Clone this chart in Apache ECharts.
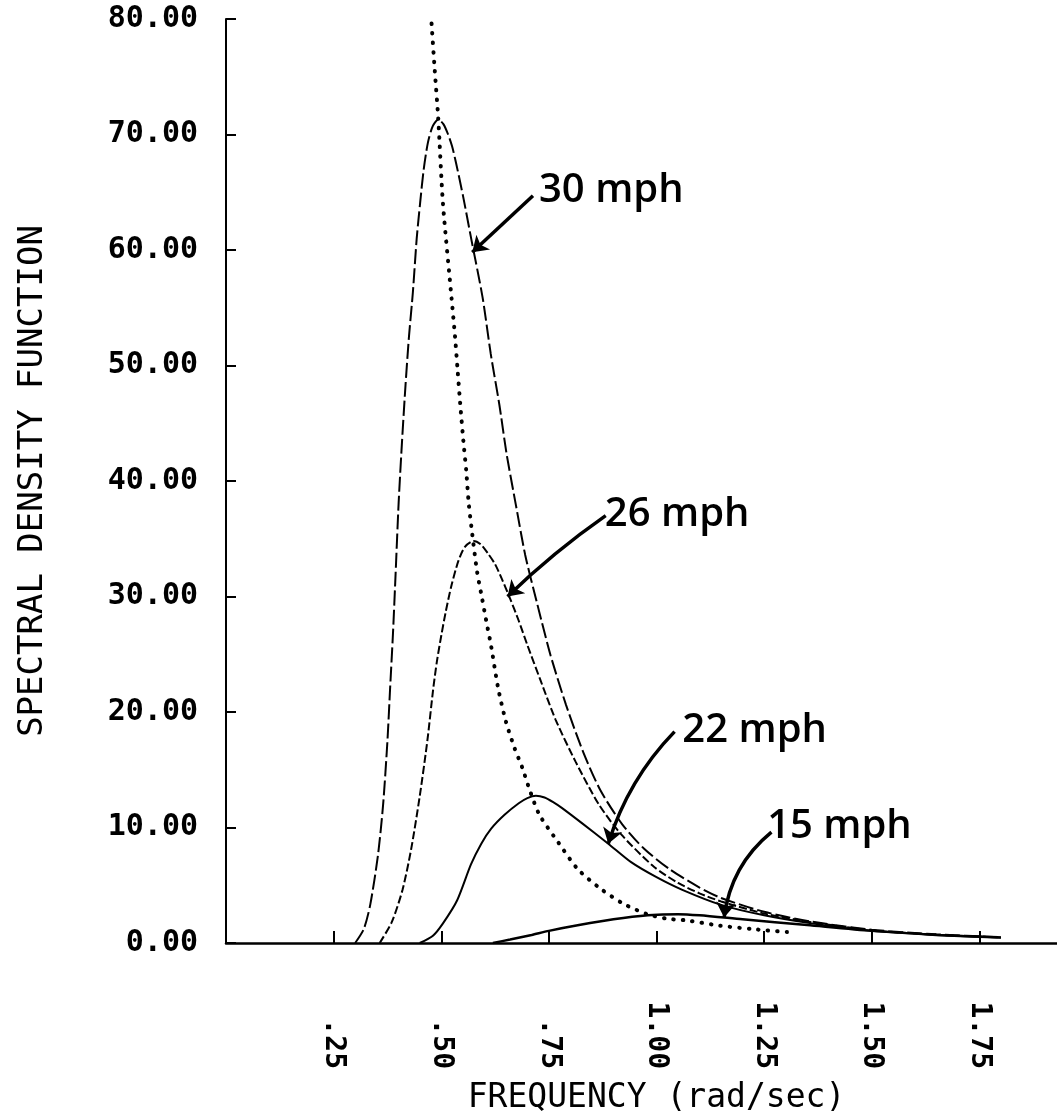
<!DOCTYPE html>
<html>
<head>
<meta charset="utf-8">
<script src="https://cdn.jsdelivr.net/npm/echarts/dist/echarts.min.js"></script>
<style>
html,body{margin:0;padding:0;background:#ffffff;}
#chart{width:1057px;height:1112px;}
</style>
</head>
<body>
<div id="chart"></div>
<script>
// ---- tick labels ----
const xTickValues = [0.25, 0.5, 0.75, 1.0, 1.25, 1.5, 1.75];
const xTickLabels = ['.25', '.50', '.75', '1.00', '1.25', '1.50', '1.75'];
const yTickValues = [0, 10, 20, 30, 40, 50, 60, 70, 80];
const yTickLabels = ['0.00', '10.00', '20.00', '30.00', '40.00', '50.00', '60.00', '70.00', '80.00'];

// ---- series values: [frequency (rad/sec), spectral density] ----
const mph30 = [[0.30,0],[0.32,1.2],[0.335,3.3],[0.353,7.6],[0.365,12.0],[0.375,17.5],[0.381,21.9],[0.388,26.9],[0.394,32.0],[0.401,38.1],[0.409,43.5],[0.417,48.3],[0.425,52.5],[0.434,56.3],[0.443,61.0],[0.451,64.1],[0.459,66.9],[0.469,69.3],[0.48,70.7],[0.493,71.3],[0.505,70.9],[0.516,70.0],[0.525,69.0],[0.534,67.6],[0.551,64.6],[0.570,60.9],[0.596,55.9],[0.615,51.0],[0.635,46.6],[0.652,42.3],[0.673,38.0],[0.695,33.6],[0.722,29.5],[0.754,24.9],[0.79,20.6],[0.83,16.5],[0.87,13.2],[0.92,10.3],[0.97,8.2],[1.03,6.4],[1.10,4.8],[1.15,3.9],[1.25,2.7],[1.36,1.85],[1.50,1.15],[1.65,0.75],[1.80,0.5]];
const mph26 = [[0.357,0],[0.385,1.8],[0.41,4.6],[0.43,8.1],[0.45,12.7],[0.468,17.6],[0.481,21.9],[0.49,24.4],[0.50,26.6],[0.51,28.6],[0.524,31.0],[0.54,33.1],[0.555,34.3],[0.575,34.8],[0.592,34.5],[0.609,33.7],[0.625,32.8],[0.641,31.5],[0.659,29.9],[0.68,27.9],[0.70,25.8],[0.73,22.8],[0.766,19.3],[0.812,15.7],[0.866,12.0],[0.918,9.4],[0.994,6.6],[1.05,5.2],[1.10,4.3],[1.15,3.6],[1.25,2.55],[1.36,1.8],[1.50,1.1],[1.65,0.72],[1.80,0.48]];
const mph22 = [[0.45,0],[0.48,0.6],[0.504,1.7],[0.537,3.7],[0.569,6.8],[0.593,8.6],[0.616,9.9],[0.647,11.1],[0.68,12.1],[0.70,12.55],[0.72,12.75],[0.74,12.6],[0.76,12.2],[0.78,11.7],[0.826,10.4],[0.888,8.6],[0.941,7.0],[1.00,5.7],[1.06,4.6],[1.15,3.3],[1.25,2.4],[1.36,1.7],[1.50,1.05],[1.65,0.7],[1.80,0.47]];
const mph15 = [[0.62,0],[0.66,0.3],[0.71,0.7],[0.75,1.05],[0.82,1.55],[0.90,2.05],[0.98,2.4],[1.05,2.5],[1.10,2.4],[1.20,2.05],[1.35,1.55],[1.50,1.05],[1.65,0.7],[1.80,0.47]];
const dottedCurve = [[0.4775,79.6],[0.485,75.5],[0.493,71.4],[0.504,64.0],[0.524,55.8],[0.532,52.5],[0.538,49.6],[0.544,46.7],[0.552,43.2],[0.558,40.9],[0.564,38.0],[0.572,35.4],[0.583,32.2],[0.594,30.0],[0.607,27.4],[0.615,25.9],[0.632,22.1],[0.650,19.2],[0.670,16.9],[0.688,15.2],[0.704,13.4],[0.728,11.1],[0.772,8.7],[0.817,6.4],[0.87,4.7],[0.923,3.4],[0.978,2.5],[1.025,2.1],[1.071,1.95],[1.147,1.5],[1.224,1.2],[1.303,0.95]];

// ---- hand-written annotations (data coordinates) ----
const annotationText = ['30 mph', '26 mph', '22 mph', '15 mph'];
const annotationAt = [[0.895,65.1],[1.048,37.1],[1.228,18.4],[1.425,10.1]];
const arrowFrom = [[0.713,64.7],[0.882,37.0],[1.042,18.3],[1.267,9.6]];
const arrowTo = [[0.572,59.8],[0.654,30.0],[0.888,8.6],[1.157,2.2]];
const arrowBend = [0, -0.04, -0.12, -0.2];

const chart = echarts.init(document.getElementById('chart'), null, {renderer: 'canvas'});

const ink = '#000000';
const plotFont = 'DejaVu Sans Mono';

function curve(name, data, lineType, width) {
  return {
    name: name, type: 'line', data: data, showSymbol: false, symbol: 'none',
    smooth: 0.25, clip: true, silent: true,
    lineStyle: {color: ink, width: width, type: lineType}
  };
}

const series = [
  {
    name: 'reference', type: 'line', data: dottedCurve, showSymbol: false, symbol: 'none',
    smooth: 0.25, clip: true, silent: true,
    lineStyle: {color: ink, width: 4, type: [0.5, 9], cap: 'round'}
  },
  curve('30 mph', mph30, [15, 4], 2),
  curve('26 mph', mph26, [8, 3], 2),
  curve('22 mph', mph22, 'solid', 2),
  curve('15 mph', mph15, 'solid', 2.5)
];

arrowFrom.forEach(function (p, i) {
  series.push({
    type: 'lines', coordinateSystem: 'cartesian2d', silent: true, z: 5,
    symbol: ['none', 'arrow'], symbolSize: 15,
    lineStyle: {color: ink, width: 3.5, curveness: arrowBend[i], opacity: 1},
    data: [{coords: [p, arrowTo[i]]}]
  });
});

series.push({
  type: 'scatter', silent: true, z: 6,
  symbol: 'circle', symbolSize: 2, itemStyle: {color: 'rgba(0,0,0,0)', opacity: 1},
  data: annotationAt.map(function (p, i) { return {value: p, name: annotationText[i]}; }),
  label: {
    show: true, position: [1, 1], align: 'center', verticalAlign: 'middle',
    formatter: function (d) { return '{h|' + d.name + '}'; },
    rich: {h: {color: '#000000', fontFamily: 'Open Sans', fontSize: 40, fontWeight: 600}}
  },
  labelLayout: {hideOverlap: false}
});

chart.setOption({
  animation: false,
  backgroundColor: '#ffffff',
  grid: {left: 226, top: 19, bottom: 169, right: -30, containLabel: false, outerBoundsMode: 'none'},
  xAxis: {
    type: 'value', min: 0, max: 2, interval: 0.25,
    name: 'FREQUENCY (rad/sec)', nameLocation: 'middle', nameGap: 139,
    nameTextStyle: {color: ink, fontFamily: plotFont, fontSize: 33},
    axisLine: {show: true, onZero: false, lineStyle: {color: ink, width: 2.5}},
    axisTick: {show: true, inside: true, length: 12, lineStyle: {color: ink, width: 2}},
    splitLine: {show: false},
    axisLabel: {
      show: true, rotate: -90, margin: 126, align: 'right', verticalAlign: 'middle',
      color: ink, fontFamily: plotFont, fontSize: 28, fontWeight: 'bold',
      showMinLabel: true, showMaxLabel: true, hideOverlap: false,
      formatter: function (v) {
        const i = xTickValues.findIndex(function (t) { return Math.abs(t - v) < 1e-6; });
        return i >= 0 ? xTickLabels[i] : '';
      }
    }
  },
  yAxis: {
    type: 'value', min: 0, max: 80, interval: 10,
    name: 'SPECTRAL DENSITY FUNCTION', nameLocation: 'middle', nameGap: 176, nameRotate: 90,
    nameTextStyle: {color: ink, fontFamily: plotFont, fontSize: 34},
    axisLine: {show: true, onZero: false, lineStyle: {color: ink, width: 2}},
    axisTick: {show: true, inside: true, length: 10, lineStyle: {color: ink, width: 2}},
    splitLine: {show: false},
    axisLabel: {
      show: true, margin: 28, color: ink, fontFamily: plotFont, fontSize: 30, fontWeight: 'bold',
      formatter: function (v) {
        const i = yTickValues.findIndex(function (t) { return Math.abs(t - v) < 1e-6; });
        return i >= 0 ? yTickLabels[i] : '';
      }
    }
  },
  series: series
});
</script>
</body>
</html>
